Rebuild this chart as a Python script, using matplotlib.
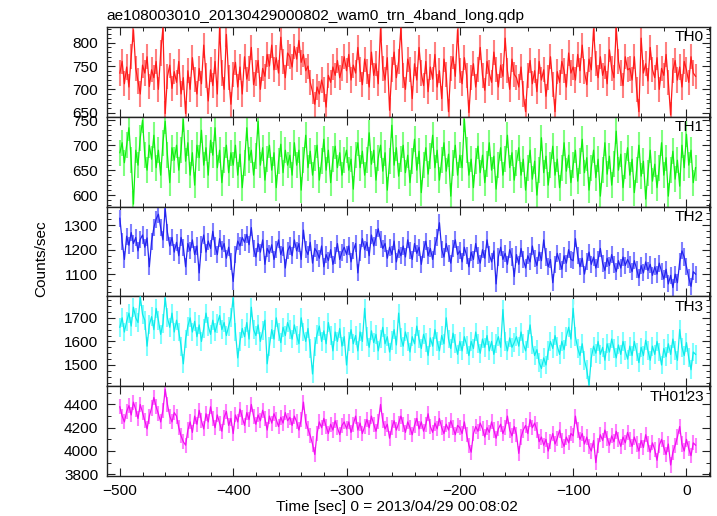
import numpy as np
import matplotlib
matplotlib.use("Agg")
import matplotlib.pyplot as plt
from matplotlib.ticker import MultipleLocator

plt.rcParams['font.family'] = ['Liberation Sans', 'DejaVu Sans']

TITLE = "ae108003010_20130429000802_wam0_trn_4band_long.qdp"
XLABEL = "Time [sec] 0 = 2013/04/29 00:08:02"
YLABEL = "Counts/sec"
BANDS = ["TH0", "TH1", "TH2", "TH3", "TH0123"]

# time bins (sec, relative to 2013/04/29 00:08:02)
TIME = np.arange(-500, 10, 2)

TH0 = [
    735, 760, 712, 748, 705, 770, 828, 745, 718, 690, 752, 735, 770, 706, 742, 725, 760, 700, 778, 832, 648, 728, 752, 702, 738,
    715, 760, 690, 725, 648, 740, 700, 768, 722, 690, 745, 712, 795, 730, 675, 742, 708, 760, 690, 832, 735, 700, 818, 725, 668,
    732, 758, 705, 748, 690, 770, 722, 745, 790, 710, 735, 762, 700, 745, 728, 775, 750, 795, 742, 768, 735, 812, 760, 725, 778,
    770, 748, 792, 765, 805, 758, 775, 740, 750, 715, 695, 668, 705, 690, 720, 700, 662, 730, 715, 748, 730, 762, 725, 745, 770,
    740, 775, 720, 752, 735, 790, 742, 710, 765, 738, 705, 780, 730, 755, 712, 830, 745, 720, 768, 655, 742, 780, 725, 760, 832,
    730, 700, 765, 742, 680, 755, 720, 790, 735, 708, 760, 695, 748, 722, 775, 705, 740, 680, 765, 732, 652, 745, 770, 728, 828,
    740, 712, 768, 730, 650, 725, 755, 705, 742, 790, 730, 698, 760, 735, 715, 780, 742, 705, 752, 728, 810, 740, 700, 765, 732,
    725, 705, 748, 690, 652, 730, 762, 712, 740, 695, 760, 720, 742, 685, 725, 770, 710, 652, 738, 715, 760, 740, 705, 778, 735,
    748, 720, 775, 740, 795, 738, 710, 765, 742, 830, 755, 725, 770, 730, 750, 712, 785, 745, 725, 832, 760, 735, 708, 770, 742,
    745, 720, 770, 700, 652, 810, 735, 755, 718, 790, 742, 725, 768, 700, 745, 730, 775, 715, 645, 740, 762, 720, 748, 705, 760,
    742, 715, 770, 735, 728,
]

TH1 = [
    685, 705, 665, 700, 735, 670, 582, 690, 660, 715, 750, 680, 650, 700, 672, 720, 655, 690, 640, 705, 748, 680, 625, 695, 670,
    700, 650, 690, 752, 668, 705, 640, 685, 620, 700, 675, 730, 660, 695, 640, 710, 680, 735, 655, 690, 625, 670, 700, 645, 685,
    660, 700, 640, 682, 615, 665, 735, 670, 690, 640, 678, 748, 660, 695, 630, 672, 700, 650, 685, 615, 668, 702, 645, 690, 660,
    680, 640, 705, 660, 690, 610, 670, 720, 655, 688, 640, 675, 700, 630, 668, 712, 650, 690, 625, 672, 698, 655, 685, 640, 670,
    690, 650, 672, 612, 680, 705, 655, 688, 640, 670, 725, 662, 690, 630, 675, 700, 648, 685, 610, 668, 740, 660, 695, 638, 672,
    700, 645, 680, 625, 668, 712, 650, 688, 605, 660, 695, 642, 678, 720, 655, 690, 630, 670, 705, 648, 682, 598, 665, 700, 640,
    680, 655, 752, 690, 640, 672, 615, 668, 698, 645, 680, 625, 662, 705, 650, 678, 612, 660, 695, 640, 672, 720, 655, 685, 630,
    665, 695, 640, 672, 610, 655, 690, 632, 668, 600, 650, 715, 645, 678, 620, 660, 698, 640, 672, 615, 655, 705, 648, 680, 625,
    660, 690, 628, 668, 712, 645, 675, 610, 655, 690, 635, 672, 598, 650, 705, 642, 678, 620, 662, 728, 650, 682, 615, 658, 695,
    640, 672, 605, 650, 700, 638, 668, 592, 645, 690, 628, 662, 615, 655, 705, 640, 675, 598, 650, 688, 632, 670, 618, 700, 655,
    722, 660, 690, 625, 655,
]

TH2 = [
    1328, 1235, 1160, 1255, 1218, 1270, 1225, 1250, 1195, 1242, 1260, 1210, 1248, 1130, 1235, 1290, 1325, 1345, 1290, 1240, 1368, 1270, 1215, 1250, 1190,
    1230, 1175, 1250, 1210, 1130, 1225, 1195, 1240, 1180, 1215, 1105, 1220, 1260, 1190, 1235, 1205, 1275, 1215, 1180, 1245, 1200, 1225, 1165, 1210, 1150,
    1070, 1180, 1235, 1215, 1250, 1230, 1262, 1220, 1290, 1205, 1170, 1225, 1190, 1240, 1140, 1205, 1185, 1220, 1160, 1200, 1240, 1180, 1210, 1125, 1195,
    1215, 1175, 1240, 1195, 1225, 1160, 1280, 1200, 1180, 1230, 1145, 1205, 1190, 1165, 1215, 1130, 1180, 1155, 1200, 1140, 1175, 1225, 1160, 1190, 1210,
    1180, 1215, 1150, 1195, 1225, 1105, 1190, 1245, 1200, 1230, 1175, 1260, 1215, 1250, 1285, 1240, 1205, 1225, 1165, 1210, 1180, 1235, 1150, 1200, 1175,
    1215, 1170, 1240, 1195, 1160, 1225, 1185, 1210, 1140, 1200, 1235, 1175, 1205, 1160, 1215, 1250, 1310, 1200, 1170, 1225, 1185, 1145, 1205, 1240, 1180,
    1195, 1150, 1210, 1175, 1130, 1190, 1160, 1225, 1175, 1145, 1200, 1165, 1240, 1180, 1150, 1195, 1060, 1170, 1210, 1160, 1185, 1140, 1200, 1170, 1090,
    1180, 1140, 1205, 1160, 1125, 1175, 1150, 1215, 1165, 1135, 1190, 1155, 1240, 1170, 1130, 1160, 1065, 1140, 1185, 1150, 1120, 1175, 1145, 1200, 1160,
    1155, 1245, 1175, 1130, 1165, 1100, 1150, 1190, 1140, 1170, 1125, 1160, 1205, 1145, 1115, 1165, 1135, 1180, 1140, 1110, 1155, 1125, 1170, 1135, 1160,
    1140, 1110, 1155, 1120, 1085, 1135, 1105, 1150, 1115, 1140, 1095, 1130, 1100, 1145, 1110, 1080, 1120, 1060, 1095, 1045, 1100, 1065, 1150, 1195, 1170,
    1130, 1085, 1050, 1110, 1100,
]

TH3 = [
    1660, 1700, 1640, 1685, 1720, 1665, 1745, 1700, 1680, 1790, 1715, 1690, 1580, 1670, 1705, 1650, 1740, 1690, 1630, 1675, 1785, 1700, 1660, 1720, 1640,
    1690, 1640, 1580, 1505, 1610, 1665, 1700, 1640, 1685, 1620, 1670, 1600, 1655, 1720, 1665, 1630, 1690, 1640, 1675, 1710, 1650, 1680, 1625, 1665, 1700,
    1785, 1640, 1530, 1600, 1655, 1620, 1680, 1610, 1745, 1650, 1625, 1670, 1600, 1645, 1690, 1505, 1580, 1650, 1610, 1700, 1640, 1595, 1660, 1625, 1680,
    1650, 1610, 1670, 1625, 1590, 1700, 1640, 1600, 1655, 1570, 1462, 1580, 1630, 1665, 1600, 1645, 1590, 1680, 1625, 1560, 1640, 1600, 1655, 1580, 1620,
    1500, 1600, 1650, 1590, 1625, 1560, 1640, 1600, 1740, 1620, 1575, 1645, 1595, 1630, 1560, 1610, 1660, 1590, 1620, 1555, 1605, 1650, 1585, 1720, 1615,
    1580, 1640, 1600, 1555, 1620, 1590, 1665, 1610, 1570, 1630, 1595, 1540, 1615, 1580, 1650, 1600, 1560, 1625, 1590, 1700, 1610, 1570, 1635, 1590, 1545,
    1600, 1560, 1620, 1585, 1540, 1600, 1570, 1640, 1590, 1550, 1610, 1575, 1625, 1560, 1600, 1545, 1590, 1620, 1575, 1735, 1600, 1560, 1615, 1575, 1595,
    1620, 1580, 1640, 1590, 1560, 1610, 1670, 1585, 1540, 1565, 1510, 1485, 1530, 1500, 1560, 1600, 1570, 1625, 1580, 1545, 1600, 1565, 1620, 1660, 1610,
    1740, 1620, 1570, 1540, 1590, 1520, 1480, 1415, 1530, 1580, 1550, 1600, 1545, 1575, 1520, 1590, 1555, 1610, 1570, 1530, 1585, 1545, 1600, 1560, 1525,
    1580, 1540, 1600, 1555, 1510, 1575, 1540, 1605, 1560, 1520, 1580, 1545, 1600, 1555, 1500, 1570, 1535, 1590, 1545, 1610, 1560, 1520, 1650, 1575, 1540,
    1595, 1530, 1480, 1555, 1545,
]

TH0123 = [
    4380, 4300, 4250, 4340, 4390, 4310, 4420, 4355, 4280, 4400, 4330, 4260, 4190, 4300, 4370, 4460, 4380, 4320, 4250, 4350, 4530, 4400, 4300, 4250, 4330,
    4300, 4200, 4130, 4080, 4050, 4180, 4250, 4160, 4300, 4230, 4350, 4260, 4190, 4320, 4250, 4380, 4280, 4200, 4310, 4240, 4170, 4290, 4340, 4220, 4280,
    4150, 4310, 4250, 4360, 4290, 4220, 4330, 4270, 4400, 4300, 4230, 4310, 4260, 4350, 4280, 4180, 4300, 4240, 4320, 4270, 4210, 4290, 4240, 4330, 4260,
    4290, 4220, 4300, 4250, 4180, 4270, 4420, 4250, 4190, 4130, 4060, 3970, 4150, 4250, 4200, 4280, 4210, 4150, 4230, 4180, 4260, 4200, 4140, 4220, 4250,
    4190, 4250, 4160, 4230, 4300, 4180, 4240, 4150, 4210, 4270, 4200, 4300, 4230, 4170, 4250, 4400, 4260, 4190, 4230, 4110, 4200, 4260, 4180, 4240, 4300,
    4230, 4160, 4250, 4200, 4140, 4220, 4280, 4190, 4250, 4170, 4230, 4320, 4210, 4160, 4240, 4190, 4280, 4200, 4150, 4230, 4180, 4260, 4200, 4140, 4220,
    4200, 4150, 4250, 4140, 4050, 3990, 4150, 4210, 4170, 4240, 4190, 4120, 4200, 4160, 4250, 4180, 4110, 4190, 4230, 4150, 4200, 4300, 4180, 4130, 4210,
    4140, 3980, 4120, 4180, 4220, 4150, 4270, 4200, 4240, 4180, 4080, 4120, 4050, 4100, 4000, 4080, 4150, 4060, 4110, 4180, 4090, 4040, 4120, 4070, 4150,
    4130, 4300, 4180, 4100, 4150, 4060, 4120, 4040, 4000, 4090, 3900, 4050, 4140, 4090, 4180, 4110, 4050, 4130, 4080, 4170, 4100, 4040, 4120, 4070, 4160,
    4100, 4040, 4120, 4060, 4000, 4090, 4030, 4140, 4060, 3990, 4070, 4010, 3920, 4050, 4100, 4030, 3970, 4060, 3880, 3990, 4050, 4120, 4210, 4060, 4000,
    4100, 4020, 3960, 4070, 4050,
]

SERIES = [TH0, TH1, TH2, TH3, TH0123]
ERRORS = [27, 26, 35, 40, 65]          # typical 1-sigma error per 1-s bin
YLIMS = [(641, 834), (577, 757), (1009, 1376), (1410, 1791), (3785, 4557)]
YMAJOR = [50, 50, 100, 100, 200]
YMINOR = [10, 10, 25, 25, 100]
LINE_COLORS = ["#ff1a1a", "#12ee12", "#2424ee", "#10eaea", "#f010f0"]
ERR_COLORS = ["#ff8080", "#80ff80", "#8080ff", "#80ffff", "#ff80ff"]

FS = 11.1

fig = plt.figure(figsize=(7.17, 5.16), dpi=100)
axes = fig.subplots(5, 1, sharex=True,
                    gridspec_kw=dict(hspace=0, left=0.149, right=0.990,
                                     top=0.9477, bottom=0.0775))

for ax, name, vals, err, ylim, ymaj, ymin, lc, ec in zip(
        axes, BANDS, SERIES, ERRORS, YLIMS, YMAJOR, YMINOR, LINE_COLORS, ERR_COLORS):
    v = np.asarray(vals, dtype=float)
    ax.vlines(TIME, v - err, v + err, color=ec, lw=1.5, zorder=2)
    ax.plot(TIME, v, color=lc, lw=0.9, zorder=3)
    ax.set_ylim(*ylim)
    ax.yaxis.set_major_locator(MultipleLocator(ymaj))
    ax.yaxis.set_minor_locator(MultipleLocator(ymin))
    ax.xaxis.set_major_locator(MultipleLocator(100))
    ax.xaxis.set_minor_locator(MultipleLocator(20))
    ax.tick_params(which='both', direction='in', top=True, right=True,
                   labelsize=FS, colors='#222222', labelcolor='black')
    ax.tick_params(which='major', length=6, width=0.8, pad=6)
    ax.tick_params(which='minor', length=3, width=0.7)
    for s in ax.spines.values():
        s.set_linewidth(1.0)
        s.set_color('#222222')
    ax.text(0.99, 0.885, name, transform=ax.transAxes, ha='right', va='center',
            fontsize=FS)

axes[-1].set_xlim(-511.5, 20.6)

fig.text(0.149, 1 - 16 / 516, TITLE, ha='left', va='center', fontsize=FS)
fig.text(41 / 717, 1 - 259 / 516, YLABEL, rotation=90, ha='center', va='center',
         fontsize=FS)
fig.text(397 / 717, 1 - 507 / 516, XLABEL, ha='center', va='center', fontsize=FS)

fig.savefig("out.png", dpi=100)
